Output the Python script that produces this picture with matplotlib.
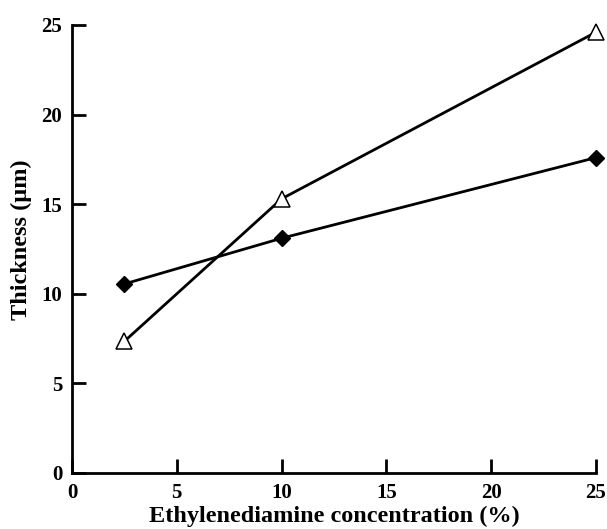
import matplotlib
matplotlib.use("Agg")
import matplotlib.pyplot as plt

conc = [2.5, 10, 25]
diamond_vals = [10.55, 13.1, 17.6]
triangle_vals = [7.35, 15.3, 24.6]
xticks = [0, 5, 10, 15, 20, 25]
yticks = [0, 5, 10, 15, 20, 25]

plt.rcParams['font.family'] = ['Liberation Serif', 'DejaVu Serif']
plt.rcParams['font.weight'] = 'bold'

fig = plt.figure(figsize=(6.07, 5.29), dpi=100)
ax = fig.add_axes([72/607, 56/529, 524/607, 448/529])

ax.plot(conc, diamond_vals, color='black', lw=2, marker='D', markersize=8.5,
        markerfacecolor='black', markeredgecolor='black', clip_on=False, zorder=3)
ax.plot(conc, triangle_vals, color='black', lw=2, marker='^', markersize=12,
        markerfacecolor='white', markeredgecolor='black', markeredgewidth=1.1,
        clip_on=False, zorder=4)

ax.set_xlim(0, 25)
ax.set_ylim(0, 25)
ax.set_xticks(xticks)
ax.set_yticks(yticks)
ax.spines['top'].set_visible(False)
ax.spines['right'].set_visible(False)
for s in ['left', 'bottom']:
    ax.spines[s].set_linewidth(2)
ax.tick_params(direction='in', length=10, width=2, labelsize=15)
ax.tick_params(axis='x', pad=7)
ax.tick_params(axis='y', pad=7)
for lbl in ax.get_xticklabels() + ax.get_yticklabels():
    lbl.set_fontweight('bold')

ax.set_xlabel('Ethylenediamine concentration (%)', fontsize=17.5, fontweight='bold')
ax.set_ylabel('Thickness (µm)', fontsize=17.5, fontweight='bold')
ax.xaxis.set_label_coords(0.5, -0.073)
ax.yaxis.set_label_coords(-0.076, 0.52)

fig.savefig('out.png', dpi=100)
